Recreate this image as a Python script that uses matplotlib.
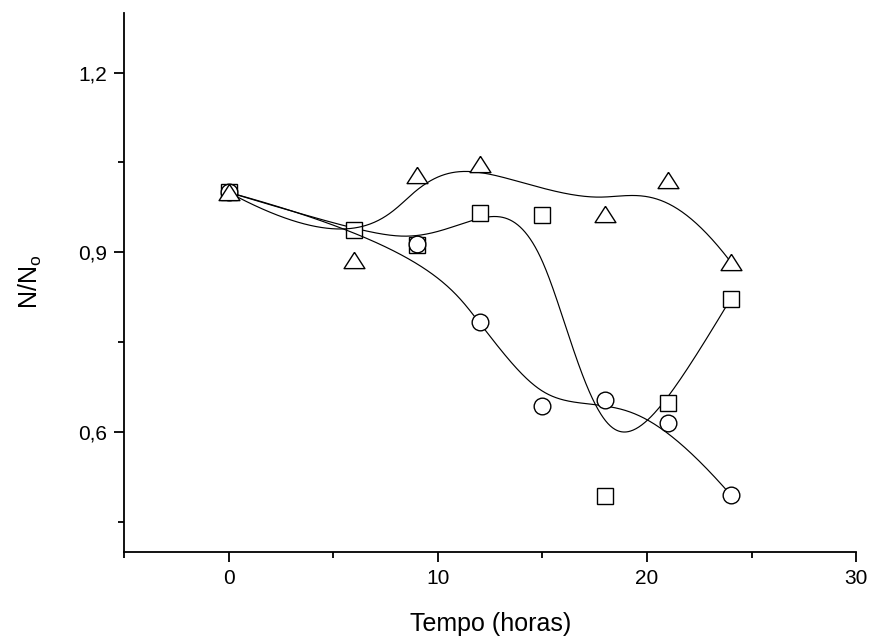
import numpy as np
import matplotlib
matplotlib.use('Agg')
import matplotlib.pyplot as plt
from matplotlib.ticker import MultipleLocator, FuncFormatter

plt.rcParams['font.family'] = ['Liberation Sans', 'DejaVu Sans']
plt.rcParams['mathtext.fontset'] = 'custom'
plt.rcParams['mathtext.rm'] = 'Liberation Sans'
plt.rcParams['mathtext.it'] = 'Liberation Sans'

# data
x_tri = [0, 6, 9, 12, 18, 21, 24]
y_tri = [1.0, 0.887, 1.029, 1.047, 0.964, 1.021, 0.884]

x_sq = [0, 6, 9, 12, 15, 18, 21, 24]
y_sq = [1.0, 0.937, 0.912, 0.966, 0.962, 0.493, 0.648, 0.822]

x_circ = [0, 9, 12, 15, 18, 21, 24]
y_circ = [1.0, 0.914, 0.784, 0.643, 0.653, 0.615, 0.495]


def bspline(xs, ys, n=500, k=3):
    # clamped uniform B-spline, the data points are the control points
    P = np.column_stack([xs, ys]).astype(float)
    m = len(P)
    t = np.concatenate([np.zeros(k), np.linspace(0, 1, m - k + 1), np.ones(k)])
    u = np.linspace(0, 1, n)
    N = np.zeros((n, len(t) - 1))
    for i in range(len(t) - 1):
        N[:, i] = ((t[i] <= u) & (u < t[i + 1])).astype(float)
    N[-1, m - 1] = 1.0
    for d in range(1, k + 1):
        newN = np.zeros((n, len(t) - 1 - d))
        for i in range(len(t) - 1 - d):
            a = np.zeros(n)
            b = np.zeros(n)
            if t[i + d] - t[i] > 0:
                a = (u - t[i]) / (t[i + d] - t[i])
            if t[i + d + 1] - t[i + 1] > 0:
                b = (t[i + d + 1] - u) / (t[i + d + 1] - t[i + 1])
            newN[:, i] = a * N[:, i] + b * N[:, i + 1]
        N = newN
    c = N @ P
    return c[:, 0], c[:, 1]


# a triangle a bit wider than tall
tri_marker = [(0, 0.78), (-1, -0.78), (1, -0.78), (0, 0.78)]

fig = plt.figure(figsize=(8.72, 6.39), dpi=100)
ax = fig.add_axes([0.1424, 0.1366, 0.8394, 0.8435])

series = [(x_sq, y_sq, 's', 11), (x_circ, y_circ, 'o', 12), (x_tri, y_tri, tri_marker, 15)]
for z, (xs, ys, mk, ms) in enumerate(series):
    cx, cy = bspline(xs, ys)
    ax.plot(cx, cy, color='black', lw=0.85, zorder=2 + 2 * z)
    ax.plot(xs, ys, linestyle='none', marker=mk, ms=ms, mfc='white', mec='black',
            mew=1.0, zorder=3 + 2 * z)

ax.set_xlim(-5, 30)
ax.set_ylim(0.4, 1.3)
ax.xaxis.set_major_locator(MultipleLocator(10))
ax.xaxis.set_minor_locator(MultipleLocator(5))
ax.yaxis.set_major_locator(MultipleLocator(0.3))
ax.yaxis.set_minor_locator(MultipleLocator(0.15))
ax.yaxis.set_major_formatter(FuncFormatter(lambda v, p: ('%.1f' % v).replace('.', ',')))

for s in ['top', 'right']:
    ax.spines[s].set_visible(False)
for s in ['left', 'bottom']:
    ax.spines[s].set_linewidth(1.3)
ax.tick_params(which='major', direction='out', length=7.5, width=1.3, labelsize=15, pad=5)
ax.tick_params(which='minor', direction='out', length=4, width=1.3)

ax.set_xlabel('Tempo (horas)', fontsize=18, labelpad=17)
ax.set_ylabel('N/N$_\\mathregular{o}$', fontsize=18, labelpad=24)

fig.savefig('out.png', dpi=100)
